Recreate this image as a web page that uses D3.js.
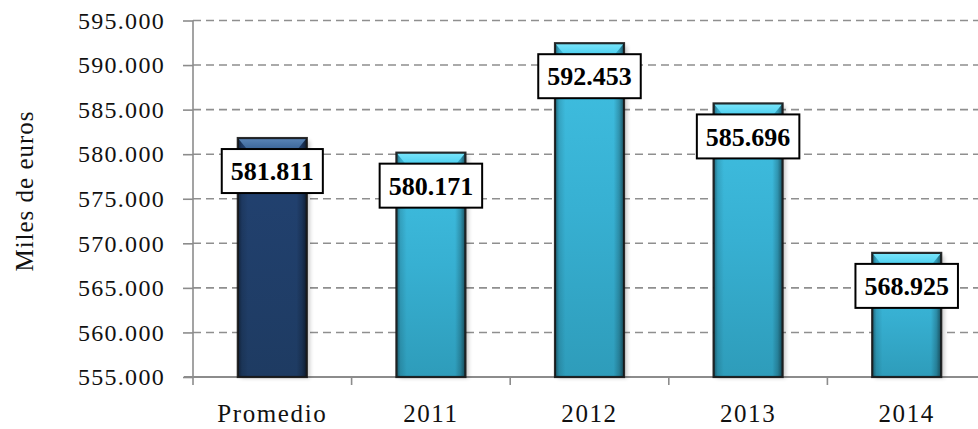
<!DOCTYPE html>
<html>
<head>
<meta charset="utf-8">
<script src="https://cdn.jsdelivr.net/npm/d3@7"></script>
<style>
  html, body { margin: 0; padding: 0; background: #fff; }
  svg { display: block; }
  text { font-family: "Liberation Serif", "Times New Roman", serif; }
</style>
</head>
<body>
<svg id="chart" width="978" height="429"></svg>
<script>
// Gasto anual (miles de euros): promedio del periodo y años 2011-2014
const categories = ["Promedio", "2011", "2012", "2013", "2014"];
const values = [581811, 580171, 592453, 585696, 568925];
const yTicks = [555000, 560000, 565000, 570000, 575000, 580000, 585000, 590000, 595000];
const yTitle = "Miles de euros";

const W = 978, H = 429;
const margin = { left: 193, top: 20.5, right: 0, bottom: 52 };
const plotBottom = H - margin.bottom; // 377

const svg = d3.select("#chart");
const fmt = d3.formatLocale({ decimal: ",", thousands: ".", grouping: [3], currency: ["", "€"] }).format(",d");

const x = d3.scaleBand()
  .domain(categories)
  .range([margin.left, margin.left + 158.6 * categories.length])
  .paddingInner(0.565)
  .paddingOuter(0.2825);

const y = d3.scaleLinear()
  .domain([d3.min(yTicks), d3.max(yTicks)])
  .range([plotBottom, margin.top]);

const defs = svg.append("defs");

function addVGrad(id, stops) {
  const g = defs.append("linearGradient").attr("id", id)
    .attr("x1", 0).attr("y1", 0).attr("x2", 0).attr("y2", 1);
  stops.forEach(s => g.append("stop").attr("offset", s[0]).attr("stop-color", s[1]));
}
function addHGrad(id, stops) {
  const g = defs.append("linearGradient").attr("id", id)
    .attr("x1", 0).attr("y1", 0).attr("x2", 1).attr("y2", 0);
  stops.forEach(s => g.append("stop").attr("offset", s[0]).attr("stop-color", s[1][0]).attr("stop-opacity", s[1][1]));
}

addVGrad("bodyCyan", [[0, "#40c0e2"], [0.5, "#37b0d2"], [1, "#2e9cba"]]);
addVGrad("bodyNavy", [[0, "#224272"], [1, "#1e3b62"]]);
addVGrad("capCyan", [[0, "#7ae6fb"], [1, "#4fd0f0"]]);
addVGrad("capNavy", [[0, "#5a86b8"], [1, "#3c6699"]]);
addHGrad("sideShade", [
  [0, ["#000", 0.45]], [0.06, ["#000", 0.12]], [0.15, ["#000", 0]],
  [0.85, ["#000", 0]], [0.93, ["#000", 0.2]], [1, ["#000", 0.55]]
]);

const shadow = defs.append("filter").attr("id", "barShadow")
  .attr("x", "-20%").attr("y", "-10%").attr("width", "150%").attr("height", "130%");
shadow.append("feGaussianBlur").attr("stdDeviation", 2.2);

// Dashed horizontal gridlines
svg.append("g")
  .selectAll("line")
  .data(yTicks.slice(1))
  .join("line")
  .attr("x1", margin.left).attr("x2", W)
  .attr("y1", d => y(d)).attr("y2", d => y(d))
  .attr("stroke", "#8f8f8f")
  .attr("stroke-width", 1.6)
  .attr("stroke-dasharray", "8,5");

// Y axis
const yAxis = svg.append("g")
  .attr("transform", `translate(${margin.left},0)`)
  .call(d3.axisLeft(y).tickValues(yTicks).tickSize(10).tickPadding(18).tickFormat(fmt));
yAxis.select(".domain").remove();
yAxis.selectAll(".tick line").attr("stroke", "#8c8c8c").attr("stroke-width", 1.6);
yAxis.selectAll(".tick text")
  .attr("fill", "#111")
  .style("font-size", "24px")
  .style("letter-spacing", "1.3px")
  .style("font-family", "'Liberation Serif', serif");
yAxis.append("line")
  .attr("x1", 0).attr("x2", 0)
  .attr("y1", margin.top).attr("y2", plotBottom + 8)
  .attr("stroke", "#8c8c8c").attr("stroke-width", 1.6);

// X axis with category boundary ticks
const xg = svg.append("g");
xg.append("line")
  .attr("x1", margin.left - 9).attr("x2", W)
  .attr("y1", plotBottom).attr("y2", plotBottom)
  .attr("stroke", "#8c8c8c").attr("stroke-width", 1.8);
xg.selectAll("line.bound")
  .data(categories.slice(1))
  .join("line")
  .attr("class", "bound")
  .attr("x1", d => x(d) - x.step() * x.paddingInner() / 2)
  .attr("x2", d => x(d) - x.step() * x.paddingInner() / 2)
  .attr("y1", plotBottom).attr("y2", plotBottom + 8)
  .attr("stroke", "#8c8c8c").attr("stroke-width", 1.6);
xg.selectAll("text")
  .data(categories)
  .join("text")
  .attr("x", d => x(d) + x.bandwidth() / 2)
  .attr("y", 422)
  .attr("text-anchor", "middle")
  .attr("fill", "#111")
  .style("font-size", "25px")
  .style("letter-spacing", "1.6px")
  .text(d => d);

// Y axis title
svg.append("text")
  .attr("transform", "translate(33,191) rotate(-90)")
  .attr("text-anchor", "middle")
  .attr("fill", "#111")
  .style("font-size", "25px")
  .style("letter-spacing", "1px")
  .text(yTitle);

// Bars
const rows = categories.map((c, i) => ({ cat: c, value: values[i], avg: c === "Promedio" }));
const bars = svg.append("g").selectAll("g.bar").data(rows).join("g").attr("class", "bar");

bars.append("rect")
  .attr("x", d => x(d.cat) + 3)
  .attr("y", d => y(d.value) + 3)
  .attr("width", x.bandwidth())
  .attr("height", d => plotBottom - y(d.value) - 2)
  .attr("fill", "#000")
  .attr("opacity", 0.22)
  .attr("filter", "url(#barShadow)");

bars.append("rect")
  .attr("x", d => x(d.cat))
  .attr("y", d => y(d.value))
  .attr("width", x.bandwidth())
  .attr("height", d => plotBottom - y(d.value))
  .attr("fill", d => d.avg ? "url(#bodyNavy)" : "url(#bodyCyan)");

bars.append("rect")
  .attr("x", d => x(d.cat))
  .attr("y", d => y(d.value))
  .attr("width", x.bandwidth())
  .attr("height", d => plotBottom - y(d.value))
  .attr("fill", "url(#sideShade)");

// Bevelled top face
bars.append("path")
  .attr("d", d => {
    const x0 = x(d.cat), x1 = x0 + x.bandwidth(), t = y(d.value), h = 11, ins = 9;
    return `M${x0},${t}L${x1},${t}L${x1 - ins},${t + h}L${x0 + ins},${t + h}Z`;
  })
  .attr("fill", d => d.avg ? "url(#capNavy)" : "url(#capCyan)");
bars.append("line")
  .attr("x1", d => x(d.cat)).attr("x2", d => x(d.cat) + x.bandwidth())
  .attr("y1", d => y(d.value) + 11.5).attr("y2", d => y(d.value) + 11.5)
  .attr("stroke", d => d.avg ? "#1b355a" : "#2aa0c2").attr("stroke-opacity", 0.5).attr("stroke-width", 1);

bars.append("rect")
  .attr("x", d => x(d.cat))
  .attr("y", d => y(d.value))
  .attr("width", x.bandwidth())
  .attr("height", d => plotBottom - y(d.value))
  .attr("fill", "none")
  .attr("stroke", "#161616")
  .attr("stroke-opacity", 0.9)
  .attr("stroke-width", 2.2);

// Value labels in framed boxes
const labels = svg.append("g").selectAll("g.lbl").data(rows).join("g").attr("class", "lbl")
  .attr("transform", d => `translate(${x(d.cat) + x.bandwidth() / 2},${y(d.value) + 33})`);
labels.append("rect")
  .attr("fill", "#fff")
  .attr("stroke", "#000")
  .attr("stroke-width", 2);
const labelTexts = labels.append("text")
  .attr("text-anchor", "middle")
  .attr("dy", "0.35em")
  .attr("fill", "#000")
  .style("font-size", "26px")
  .style("font-weight", "bold")
  .text(d => fmt(d.value));
labelTexts.each(function () {
  const bb = this.getBBox();
  const w = bb.width + 18, h = 44;
  d3.select(this.previousSibling)
    .attr("x", -w / 2).attr("y", -h / 2)
    .attr("width", w).attr("height", h);
});
</script>
</body>
</html>
